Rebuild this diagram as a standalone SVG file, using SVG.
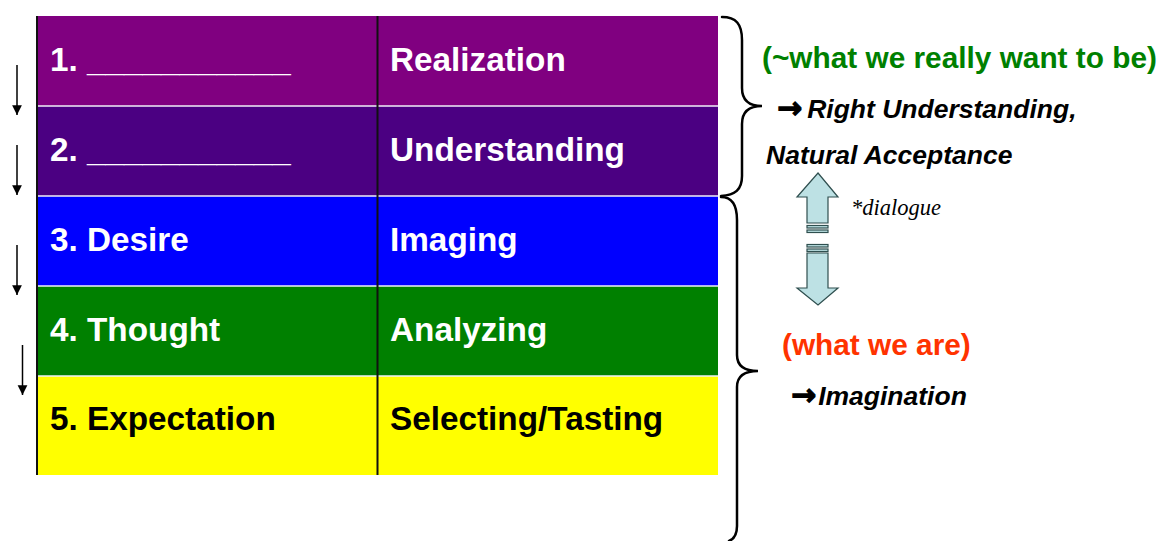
<svg xmlns="http://www.w3.org/2000/svg" width="1162" height="541" viewBox="0 0 1162 541">
  <style>
    .cell { font-family: "Liberation Sans", Arial, sans-serif; font-weight: bold; font-size: 33.3px; fill: #ffffff; }
    .dark { fill: #000000; }
    .sep { stroke: #f0f0f8; stroke-width: 1.5; }
    .rule { stroke: #111111; stroke-width: 2; }
    .brace { fill: none; stroke: #000000; stroke-width: 2.5; stroke-linecap: round; }
    .step { stroke: #000000; stroke-width: 1.5; marker-end: url(#head); }
    .note { font-family: "Liberation Sans", Arial, sans-serif; font-weight: bold; font-style: italic; font-size: 26.5px; fill: #000000; }
    .head { font-family: "Liberation Sans", Arial, sans-serif; font-weight: bold; font-size: 29.8px; }
    .arrowglyph { font-family: "DejaVu Sans", sans-serif; font-weight: bold; font-style: normal; font-size: 30px; stroke: #000000; stroke-width: 1.2; }
    .fat { fill: #bde1e4; stroke: #2f4f4f; stroke-width: 1.2; stroke-linejoin: miter; }
  </style>
  <defs>
    <marker id="head" viewBox="0 0 10 10" refX="10" refY="5" markerWidth="6.5" markerHeight="7" markerUnits="strokeWidth" orient="auto">
      <path d="M0,0 L10,5 L0,10 Z" fill="#000000"/>
    </marker>
  </defs>

  <rect width="1162" height="541" fill="#ffffff"/>

  <!-- five levels of the table -->
  <g id="row1">
    <rect x="37" y="16" width="681" height="90" fill="#800080"/>
    <text class="cell" x="50" y="71">1. ___________</text>
    <text class="cell" x="390" y="71">Realization</text>
  </g>
  <g id="row2">
    <rect x="37" y="106" width="681" height="90" fill="#4b0082"/>
    <text class="cell" x="50" y="161">2. ___________</text>
    <text class="cell" x="390" y="161">Understanding</text>
  </g>
  <g id="row3">
    <rect x="37" y="196" width="681" height="90" fill="#0000ff"/>
    <text class="cell" x="50" y="251">3. Desire</text>
    <text class="cell" x="390" y="251">Imaging</text>
  </g>
  <g id="row4">
    <rect x="37" y="286" width="681" height="90" fill="#008000"/>
    <text class="cell" x="50" y="341">4. Thought</text>
    <text class="cell" x="390" y="341">Analyzing</text>
  </g>
  <g id="row5">
    <rect x="37" y="376" width="681" height="99" fill="#ffff00"/>
    <text class="cell dark" x="50" y="430">5. Expectation</text>
    <text class="cell dark" x="390" y="430">Selecting/Tasting</text>
  </g>

  <!-- row separators and rules -->
  <g id="grid">
    <line class="sep" x1="37" y1="106" x2="718" y2="106"/>
    <line class="sep" x1="37" y1="196" x2="718" y2="196"/>
    <line class="sep" x1="37" y1="286" x2="718" y2="286"/>
    <line class="sep" x1="37" y1="376" x2="718" y2="376"/>
    <line class="rule" x1="37" y1="16" x2="37" y2="475"/>
    <line class="rule" x1="377.5" y1="16" x2="377.5" y2="475" stroke-width="1.5"/>
  </g>

  <!-- connectors: step arrows and braces -->
  <g id="connectors">
    <line class="step" x1="17" y1="65" x2="17" y2="115"/>
    <line class="step" x1="17" y1="145" x2="17" y2="195"/>
    <line class="step" x1="17" y1="245" x2="17" y2="295"/>
    <line class="step" x1="22.5" y1="345" x2="22.5" y2="395"/>
    <path class="brace" d="M722,17 C736,17 742,24 742,40 L742,88 C742,100 749,106 762,106 C749,106 742,112 742,124 L742,176 C742,190 735,195 721,196"/>
    <path class="brace" d="M721,197 C732,197 737,205 737,220 L737,355 C737,366 745,371 758,371 C745,371 737,376 737,387 L737,526 C737,535 734,539 729,541"/>
  </g>

  <!-- dialogue double arrow -->
  <g id="dialogue">
    <path class="fat" d="M818,173 L838,197 L828,197 L828,223 L807,223 L807,197 L797,197 Z"/>
    <rect class="fat" x="807" y="225.5" width="21" height="2.5"/>
    <rect class="fat" x="807" y="230" width="21" height="2.5"/>
    <rect class="fat" x="807" y="244.5" width="21" height="2.5"/>
    <rect class="fat" x="807" y="249" width="21" height="2.5"/>
    <path class="fat" d="M807,253 L828,253 L828,288 L838,288 L818,305 L797,288 L807,288 Z"/>
    <text x="851" y="215" font-family="Liberation Serif, 'Times New Roman', serif" font-style="italic" font-size="22.5px" fill="#000000">*dialogue</text>
  </g>

  <!-- right-hand notes -->
  <g id="upper-note">
    <text class="head" x="762" y="68" fill="#008000">(~what we really want to be)</text>
    <text class="note" x="777" y="118"><tspan class="arrowglyph">→</tspan><tspan dx="5">Right Understanding,</tspan></text>
    <text class="note" x="766" y="164">Natural Acceptance</text>
  </g>
  <g id="lower-note">
    <text class="head" x="782" y="355" fill="#ff3300">(what we are)</text>
    <text class="note" x="791" y="405"><tspan class="arrowglyph">→</tspan><tspan dx="2">Imagination</tspan></text>
  </g>
</svg>
